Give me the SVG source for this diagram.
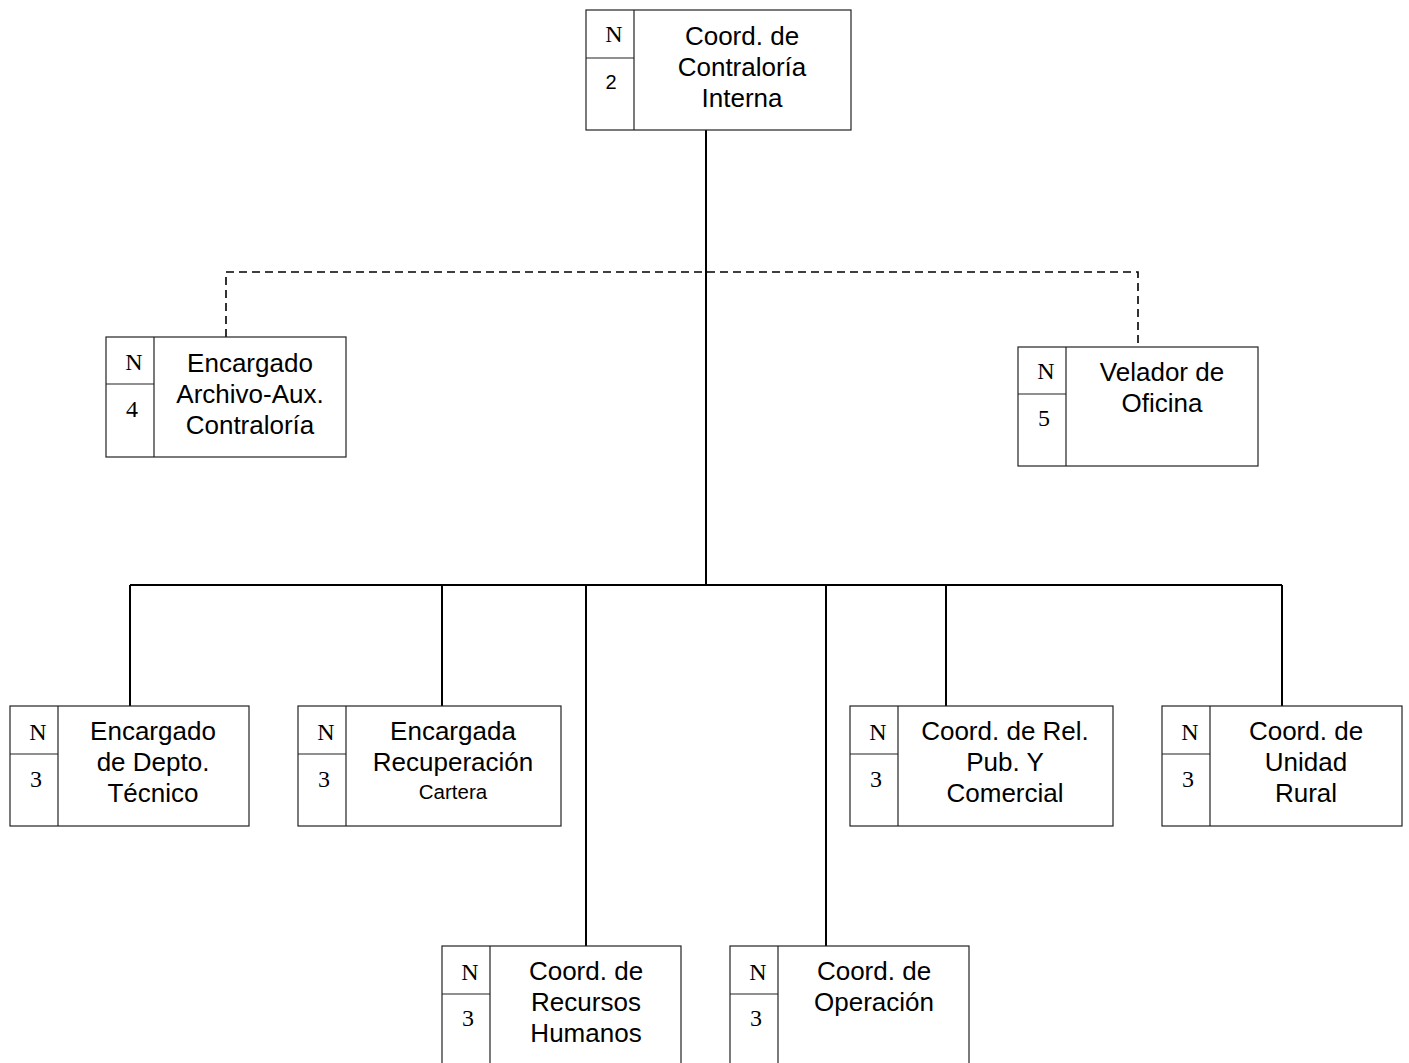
<svg xmlns="http://www.w3.org/2000/svg" width="1409" height="1063" viewBox="0 0 1409 1063">
<style>
.box{fill:#fff;stroke:#222;stroke-width:1.2}
.div{stroke:#222;stroke-width:1.2}
.t{font-family:"Liberation Sans",Arial,sans-serif;font-size:26px;fill:#000;text-anchor:middle}
.s{font-family:"Liberation Sans",Arial,sans-serif;font-size:20.5px;fill:#000;text-anchor:middle}
.k{font-family:"Liberation Sans",Arial,sans-serif;font-size:20px;fill:#000;text-anchor:middle}
.n{font-family:"Liberation Serif","Times New Roman",serif;font-size:24px;fill:#000;text-anchor:middle}
.g{font-family:"Liberation Serif","Times New Roman",serif;font-size:24px;fill:#000;text-anchor:middle}
.c{stroke:#000;stroke-width:2;fill:none}
.d{stroke:#000;stroke-width:1.6;fill:none;stroke-dasharray:8,5}
</style>
<rect width="1409" height="1063" fill="#fff"/>
<g id="connectors">
<path class="c" d="M706,130 V585 M130,585 H1282 M130,585 V706 M442,585 V706 M586,585 V946 M826,585 V946 M946,585 V706 M1282,585 V706"/>
<path class="d" d="M226,337 V272 H1138 V347"/>
</g>
<g id="n-top">
<rect class="box" x="586" y="10" width="265" height="120"/>
<path class="div" d="M634,10 V130 M586,58 H634"/>
<text class="n" x="614" y="42">N</text>
<text class="k" x="611" y="89">2</text>
<text class="t" x="742" y="45">Coord. de</text>
<text class="t" x="742" y="76">Contraloría</text>
<text class="t" x="742" y="107">Interna</text>
</g>
<g id="n-archivo">
<rect class="box" x="106" y="337" width="240" height="120"/>
<path class="div" d="M154,337 V457 M106,384 H154"/>
<text class="n" x="134" y="370">N</text>
<text class="g" x="132" y="417">4</text>
<text class="t" x="250" y="372">Encargado</text>
<text class="t" x="250" y="403">Archivo-Aux.</text>
<text class="t" x="250" y="434">Contraloría</text>
</g>
<g id="n-velador">
<rect class="box" x="1018" y="347" width="240" height="119"/>
<path class="div" d="M1066,347 V466 M1018,394 H1066"/>
<text class="n" x="1046" y="379">N</text>
<text class="g" x="1044" y="426">5</text>
<text class="t" x="1162" y="381">Velador de</text>
<text class="t" x="1162" y="412">Oficina</text>
</g>
<g id="n-tecnico">
<rect class="box" x="10" y="706" width="239" height="120"/>
<path class="div" d="M58,706 V826 M10,754 H58"/>
<text class="n" x="38" y="740">N</text>
<text class="g" x="36" y="787">3</text>
<text class="t" x="153" y="740">Encargado</text>
<text class="t" x="153" y="771">de Depto.</text>
<text class="t" x="153" y="802">Técnico</text>
</g>
<g id="n-recuperacion">
<rect class="box" x="298" y="706" width="263" height="120"/>
<path class="div" d="M346,706 V826 M298,754 H346"/>
<text class="n" x="326" y="740">N</text>
<text class="g" x="324" y="787">3</text>
<text class="t" x="453" y="740">Encargada</text>
<text class="t" x="453" y="771">Recuperación</text>
<text class="s" x="453" y="799">Cartera</text>
</g>
<g id="n-relpub">
<rect class="box" x="850" y="706" width="263" height="120"/>
<path class="div" d="M898,706 V826 M850,754 H898"/>
<text class="n" x="878" y="740">N</text>
<text class="g" x="876" y="787">3</text>
<text class="t" x="1005" y="740">Coord. de Rel.</text>
<text class="t" x="1005" y="771">Pub. Y</text>
<text class="t" x="1005" y="802">Comercial</text>
</g>
<g id="n-rural">
<rect class="box" x="1162" y="706" width="240" height="120"/>
<path class="div" d="M1210,706 V826 M1162,754 H1210"/>
<text class="n" x="1190" y="740">N</text>
<text class="g" x="1188" y="787">3</text>
<text class="t" x="1306" y="740">Coord. de</text>
<text class="t" x="1306" y="771">Unidad</text>
<text class="t" x="1306" y="802">Rural</text>
</g>
<g id="n-rrhh">
<rect class="box" x="442" y="946" width="239" height="122"/>
<path class="div" d="M490,946 V1068 M442,994 H490"/>
<text class="n" x="470" y="980">N</text>
<text class="g" x="468" y="1026">3</text>
<text class="t" x="586" y="980">Coord. de</text>
<text class="t" x="586" y="1011">Recursos</text>
<text class="t" x="586" y="1042">Humanos</text>
</g>
<g id="n-operacion">
<rect class="box" x="730" y="946" width="239" height="122"/>
<path class="div" d="M778,946 V1068 M730,994 H778"/>
<text class="n" x="758" y="980">N</text>
<text class="g" x="756" y="1026">3</text>
<text class="t" x="874" y="980">Coord. de</text>
<text class="t" x="874" y="1011">Operación</text>
</g>
</svg>
